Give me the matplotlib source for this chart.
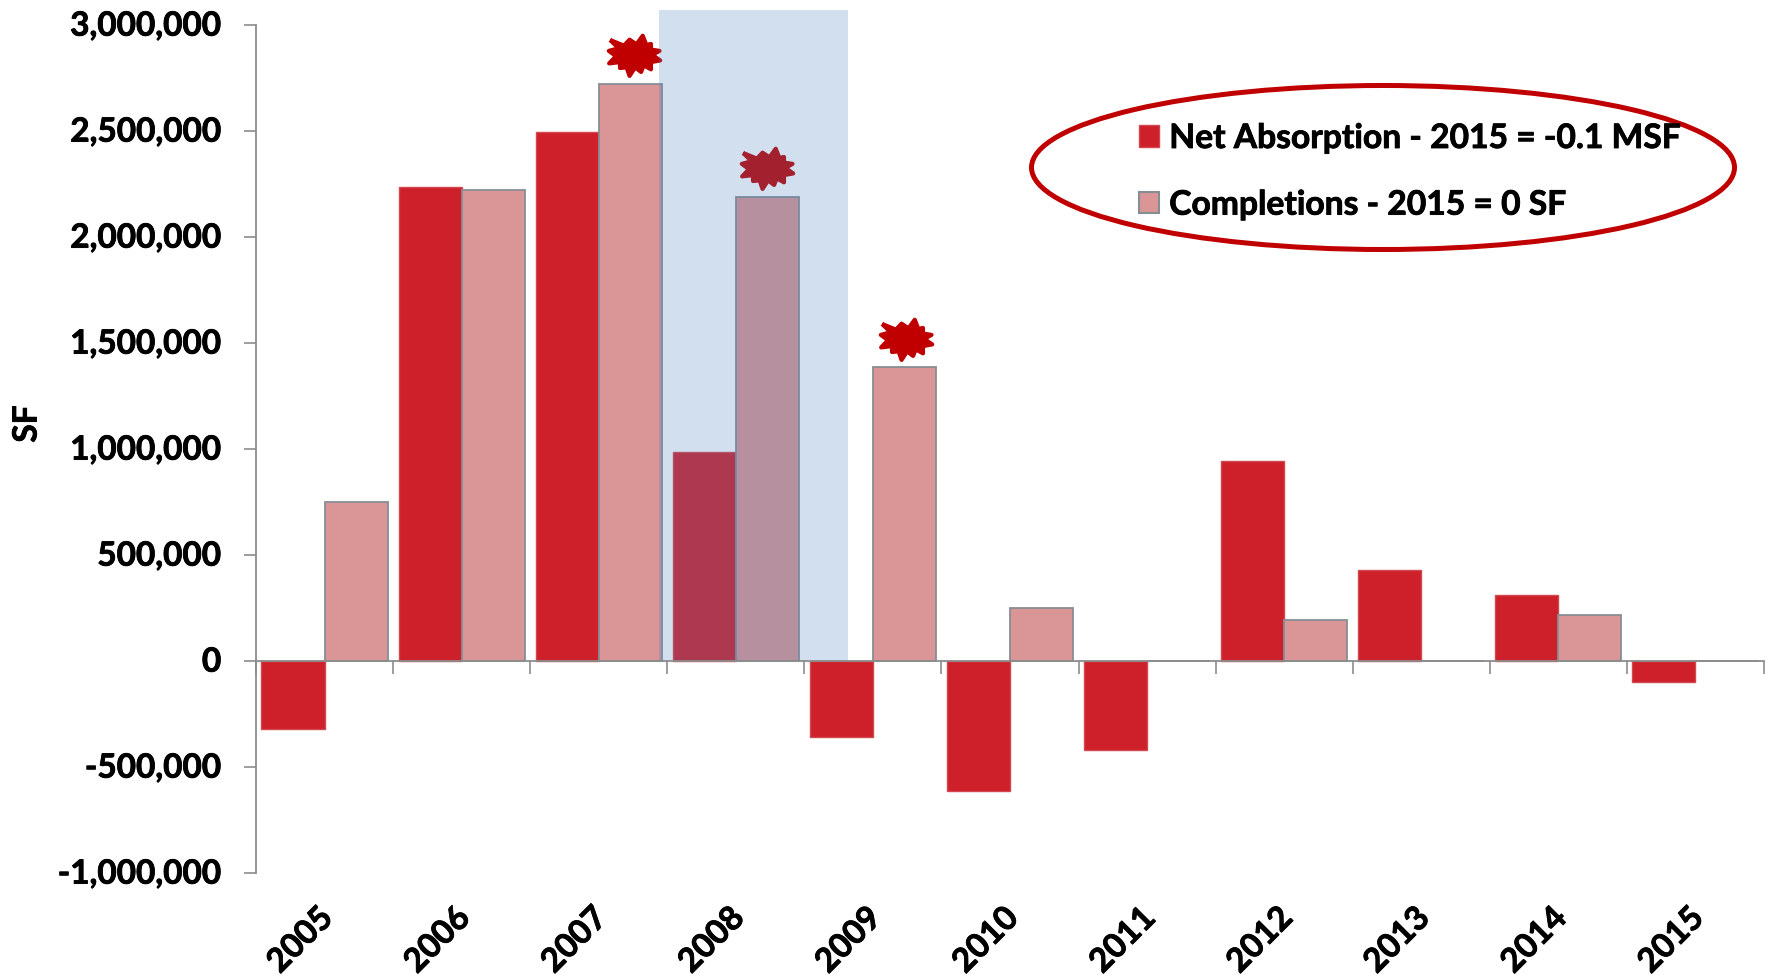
import numpy as np
import matplotlib
matplotlib.use('Agg')
import matplotlib.pyplot as plt
import matplotlib.patheffects as pe
from matplotlib.markers import MarkerStyle
from matplotlib.patches import Ellipse, Rectangle, Patch
from matplotlib.text import Text
from matplotlib.transforms import ScaledTranslation

plt.rcParams['font.family'] = ['Lato', 'DejaVu Sans']
plt.rcParams['font.weight'] = 'bold'

years = ['2005', '2006', '2007', '2008', '2009', '2010', '2011', '2012', '2013', '2014', '2015']
net_absorption = [-320000, 2238000, 2493000, 985000, -357000, -613000, -420000, 945000, 430000, 309000, -100000]
completions = [748000, 2222000, 2722000, 2190000, 1385000, 250000, 0, 192000, 0, 218000, 0]
y_ticks = [-1000000, -500000, 0, 500000, 1000000, 1500000, 2000000, 2500000, 3000000]
peak_years = ['2007', '2008', '2009']
burst_shift = [0.03, 0.0, 0.01]

RED = '#CE202B'
PINK = '#DA9696'
DARK_RED = '#C00000'
GREY = '#8C8C8C'
BAR_EDGE = '#868E94'
FS = 24

# irregular burst outline, alternating tips and notches
burst = np.array([(-74, 47), (-32, 30), (-15, 48), (6, 34), (25, 60), (36, 32), (50, 35), (50, 18),
                  (76, 14), (54, 2), (78, -15), (50, -20), (50, -42), (28, -30), (20, -50), (2, -36),
                  (-15, -62), (-24, -36), (-44, -38), (-44, -20), (-77, -24), (-56, -2), (-78, 14), (-48, 22),
                  (-74, 47)], dtype=float)

fig = plt.figure(figsize=(17.71, 9.76), dpi=100)
ax = fig.add_axes([256 / 1771, 103 / 976, 1508 / 1771, 848 / 976])

x = np.arange(len(years))
w = 0.46
ax.bar(x + 0.5 - w / 2, net_absorption, w, color=RED, edgecolor='#D2484F', linewidth=1, zorder=2)
ax.bar(x + 0.5 + w / 2, completions, w, color=PINK, edgecolor=BAR_EDGE, linewidth=1.3, zorder=2)

# bursts sit just above the completions bars of the peak years
for yr, dx in zip(peak_years, burst_shift):
    i = years.index(yr)
    ax.plot(i + 0.5 + w / 2 + dx, completions[i] + 136000, marker=MarkerStyle(burst, joinstyle='round'),
            markersize=37, color=DARK_RED, markeredgecolor=DARK_RED, markeredgewidth=3,
            clip_on=False, zorder=3)

# recession shading drawn over the bars
ax.add_patch(Rectangle((2.94, 0), 1.38, 3070000, facecolor='#4F81BD', alpha=0.25,
                       edgecolor='none', clip_on=False, zorder=4))

ax.set_xlim(0, len(years))
ax.set_ylim(-1000000, 3000000)
ax.set_yticks(y_ticks)
ax.set_yticklabels([f'{v:,}' for v in y_ticks])
ax.set_xticks(np.arange(len(years) + 1))
ax.set_xticklabels([])
# year labels hang on invisible minor ticks, set a little left of each group centre
ax.set_xticks(x + 0.325, years, minor=True)

ax.tick_params(axis='y', length=9, width=1.2, color=GREY, labelsize=FS, pad=16)
ax.tick_params(axis='x', which='major', direction='out', length=9, width=1.2, color=GREY)
ax.tick_params(axis='x', which='minor', length=0, labelsize=FS, pad=174, labelrotation=45)
for lab in ax.get_xticklabels(minor=True):
    lab.set_ha('right')
    lab.set_rotation_mode('anchor')
for lab in ax.get_yticklabels():
    lab.set_transform(lab.get_transform() + ScaledTranslation(0, 1 / 72, fig.dpi_scale_trans))

for s in ['top', 'right']:
    ax.spines[s].set_visible(False)
ax.spines['bottom'].set_position(('data', 0))
ax.spines['bottom'].set_color(GREY)
ax.spines['left'].set_color(GREY)
ax.spines['bottom'].set_linewidth(1.3)
ax.spines['left'].set_linewidth(1.3)
ax.spines['bottom'].set_zorder(5)

fig.text(27 / 1771, 1 - 424 / 976, 'SF', rotation=90, ha='center', va='center', fontsize=FS)

handles = [Patch(facecolor=RED, edgecolor='#D2484F', linewidth=1),
           Patch(facecolor=PINK, edgecolor=BAR_EDGE, linewidth=1.5)]
fig.legend(handles, ['Net Absorption - 2015 = -0.1 MSF', 'Completions - 2015 = 0 SF'],
           loc='upper left', bbox_to_anchor=(1139 / 1771, 1 - 122 / 976), frameon=False,
           fontsize=24.2, handlelength=0.6, handleheight=0.6, handletextpad=0.3, labelspacing=1.03,
           borderpad=0, borderaxespad=0)

fig.add_artist(Ellipse((1383 / 1771, 1 - 167.5 / 976), 703 / 1771, 164 / 976, transform=fig.transFigure,
                       facecolor='none', edgecolor=DARK_RED, linewidth=3.6))

# thicken the lettering a touch
for t in fig.findobj(Text):
    t.set_path_effects([pe.withStroke(linewidth=0.6, foreground='black')])

fig.savefig('out.png', dpi=100)
